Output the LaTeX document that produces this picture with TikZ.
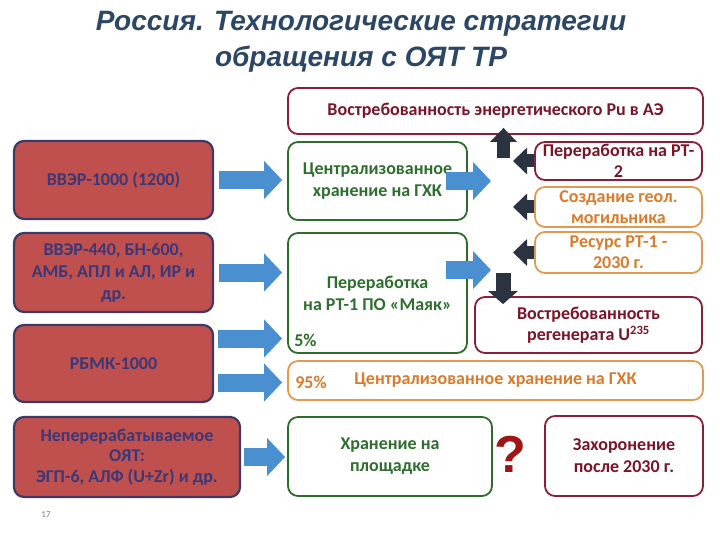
\documentclass[tikz,border=0pt]{standalone}
\usepackage{fontspec}
\setmainfont{Carlito}
\newfontfamily\headfont{Liberation Sans}
\usepackage{tikz}
\usetikzlibrary{arrows.meta}
\definecolor{headcol}{HTML}{2B4765}
\definecolor{srcfill}{HTML}{C0504D}
\definecolor{srcline}{HTML}{3E3A66}
\definecolor{srctext}{HTML}{3A3878}
\definecolor{grn}{HTML}{2F6B2A}
\definecolor{grntext}{HTML}{2E6E2E}
\definecolor{maroon}{HTML}{8B1E3A}
\definecolor{maroontext}{HTML}{7A1428}
\definecolor{orng}{HTML}{E39A4F}
\definecolor{orngtext}{HTML}{D97B2B}
\definecolor{ablue}{HTML}{4A90D0}
\definecolor{adark}{HTML}{2B3340}
\definecolor{qred}{HTML}{A01414}
\tikzset{
  boxbase/.style={line width=1.8pt, rounded corners=10pt, align=center, inner sep=0pt,
    font=\bfseries\fontsize{18}{22}\selectfont},
  srcbox/.style={boxbase, draw=srcline, fill=srcfill, text=srctext, line width=2.2pt},
  grnbox/.style={boxbase, draw=grn, fill=white, text=grntext},
  redbox/.style={boxbase, draw=maroon, fill=white, text=maroontext},
  orgbox/.style={boxbase, draw=orng, fill=white, text=orngtext},
  barrow/.style={draw=ablue, line width=18pt, -{Triangle[length=18pt,width=37pt]}},
  darrow/.style={draw=adark, line width=13pt, -{Triangle[length=14pt,width=26pt]}},
  pct/.style={anchor=base west, inner sep=0pt, font=\bfseries\fontsize{18}{22}\selectfont},
  title/.style={text=headcol, align=center, font=\headfont\bfseries\itshape\fontsize{28}{36}\selectfont},
  qmark/.style={text=qred, font=\headfont\bfseries\fontsize{52}{60}\selectfont},
  pgnum/.style={text=gray, font=\fontsize{9}{11}\selectfont},
}
\begin{document}
\begin{tikzpicture}[x=1pt, y=-1pt]
  \fill[white] (0,0) rectangle (720,540);
  \useasboundingbox (0,0) rectangle (720,540);

  \node[title] (head) at (361,42) {Россия. Технологические стратегии\\обращения с ОЯТ ТР};

  % reactors
  \node[srcbox, minimum width=199pt, minimum height=78pt] (b1) at (113.5,180) {ВВЭР-1000 (1200)};
  \node[srcbox, minimum width=199pt, minimum height=79pt] (b2) at (113.5,272.5) {ВВЭР-440, БН-600,\\АМБ, АПЛ и АЛ, ИР и\\др.};
  \node[srcbox, minimum width=199pt, minimum height=77pt] (b3) at (113.5,363.5) {РБМК-1000};
  \node[srcbox, minimum width=226pt, minimum height=80pt, font=\bfseries\fontsize{18}{20.5}\selectfont] (b4) at (127,457)
    {Неперерабатываемое\\ОЯТ:\\ЭГП-6, АЛФ (U+Zr) и др.};

  % strategies
  \node[redbox, minimum width=415pt, minimum height=46pt] (top) at (495.5,111) {Востребованность энергетического Pu в АЭ};
  \node[grnbox, minimum width=179pt, minimum height=78pt] (g1) at (377.5,181) {Централизованное\\хранение на ГХК};
  \node[grnbox, minimum width=179pt, minimum height=120pt] (g2) at (377.5,293) {Переработка\\на РТ-1 ПО «Маяк»};
  \node[orgbox, minimum width=415pt, minimum height=39pt] (wide) at (495.5,380.5) {Централизованное хранение на ГХК};
  \node[grnbox, minimum width=204pt, minimum height=79pt] (g3) at (390,456.5) {Хранение на\\площадке};
  \node[redbox, minimum width=167pt, minimum height=38pt, font=\bfseries\fontsize{18}{21}\selectfont] (r1) at (618.5,161) {Переработка на РТ-\\2};
  \node[orgbox, minimum width=167pt, minimum height=40pt, font=\bfseries\fontsize{18}{21}\selectfont] (o1) at (618.5,207) {Создание геол.\\могильника};
  \node[orgbox, minimum width=167pt, minimum height=41pt, font=\bfseries\fontsize{18}{21}\selectfont] (o2) at (618.5,252.5) {Ресурс РТ-1 -\\2030 г.};
  \node[redbox, minimum width=227pt, minimum height=56pt, font=\bfseries\fontsize{18}{21}\selectfont] (r2) at (588.5,325) {Востребованность\\регенерата U\textsuperscript{235}};
  \node[redbox, minimum width=158pt, minimum height=80pt] (r3) at (624,456) {Захоронение\\после 2030 г.};

  \node[pct, text=grntext] (p5) at ([xshift=7pt,yshift=7pt]g2.south west) {5\%};
  \node[pct, text=orngtext] (p95) at ([xshift=8pt,yshift=12pt]wide.south west) {95\%};

  % blue flows
  \draw[barrow, shorten <=5pt, shorten >=5pt] (b1.east) -- (b1.east -| g1.west);
  \draw[barrow, shorten <=5pt, shorten >=5pt] (b2.east) -- (b2.east -| g2.west);
  \draw[barrow, shorten <=4pt, shorten >=5pt] ([yshift=25pt]b3.east) -- ([yshift=25pt]b3.east -| g2.west);
  \draw[barrow, shorten <=4pt, shorten >=5pt] ([yshift=-19pt]b3.east) -- ([yshift=-19pt]b3.east -| wide.west);
  \draw[barrow, shorten <=3pt, shorten >=2pt] (b4.east) -- (b4.east -| g3.west);
  \coordinate (j1) at (491,181);
  \coordinate (j2) at (491,270);
  \draw[barrow, shorten <=-22pt] (j1 -| g1.east) -- (j1);
  \draw[barrow, shorten <=-22pt] (j2 -| g2.east) -- (j2);

  % dark flows
  \coordinate (hub) at (503.5,158);
  \coordinate (col) at (513,0);
  \coordinate (hub2) at (503,273);
  \draw[darrow, shorten >=-7pt] (hub) -- (hub |- top.south);
  \draw[darrow] (r1.west) -- (r1.west -| col);
  \draw[darrow] (o1.west) -- (o1.west -| col);
  \draw[darrow] (o2.west) -- (o2.west -| col);
  \draw[darrow, line width=15pt, -{Triangle[length=13pt,width=29pt]}, shorten >=-8pt] (hub2) -- (hub2 |- r2.north);

  \node[qmark] (q) at (510,454) {?};
  \node[pgnum] (pg) at (46,515) {17};
\end{tikzpicture}
\end{document}
